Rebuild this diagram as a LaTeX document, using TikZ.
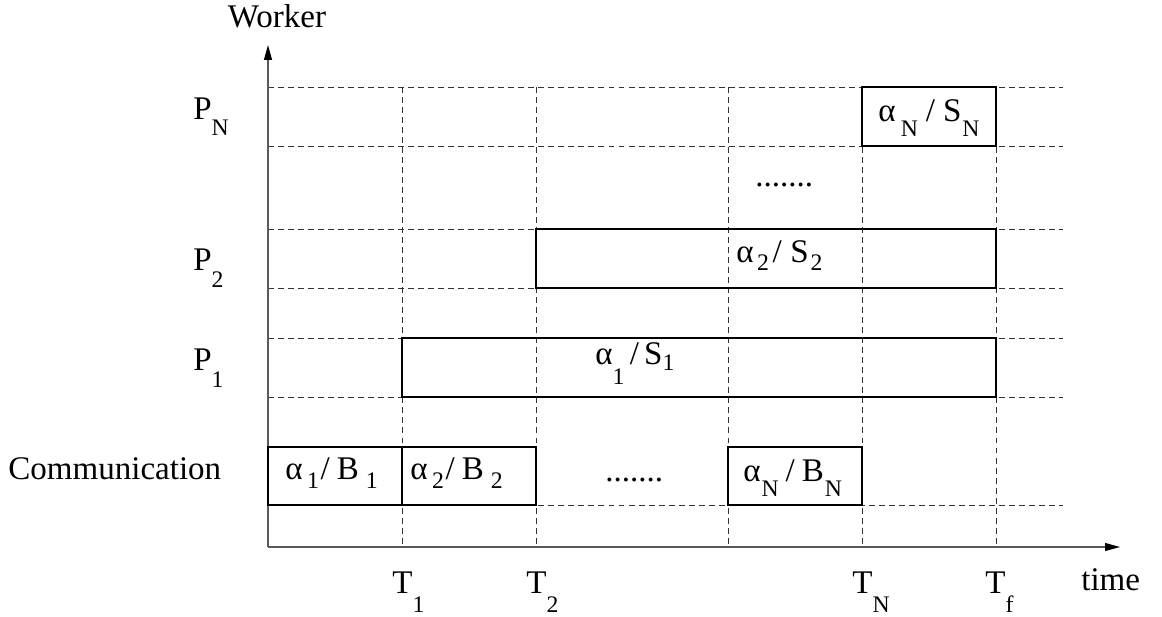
\documentclass[tikz,border=0pt]{standalone}
\usepackage{fontspec}
\setmainfont{Liberation Serif}
\usetikzlibrary{arrows.meta,fit}
\newcommand{\sbs}[2]{\raisebox{-#1}{\fontsize{13.5}{14}\selectfont #2}}
\begin{document}
\begin{tikzpicture}[x=0.02cm,y=-0.02cm,
  every node/.style={font=\fontsize{18.8}{22}\selectfont, inner sep=0pt},
  gridline/.style={dash pattern=on 3.4pt off 2.3pt, line width=0.5pt, black!80},
  axisline/.style={line width=0.7pt, black!65, -{Triangle[length=8.5pt,width=4.5pt,fill=black,color=black]}},
  taskbox/.style={draw, line width=0.6pt, inner sep=0pt, fit={#1}},
  lbl/.style={anchor=base west}]
\useasboundingbox (0,0) rectangle (1162,617);
% grid
\foreach \y in {87,146,229,288,338,397,505} \draw[gridline] (268,\y) -- (1063,\y);
\foreach \x in {402,536,728,862,996} \draw[gridline] (\x,87) -- (\x,547);
% axes
\coordinate (O) at (268,547);
\coordinate (ytip) at (268,45);
\coordinate (xtip) at (1120,547);
\draw[axisline] (O) -- (ytip);
\draw[axisline] (O) -- (xtip);
% boxes
\node[taskbox={(268,447)(402,505)}] (c1) {};
\node[taskbox={(402,447)(536,505)}] (c2) {};
\node[taskbox={(728,447)(862,505)}] (cN) {};
\node[taskbox={(402,338)(996,397)}] (p1) {};
\node[taskbox={(536,229)(996,288)}] (p2) {};
\node[taskbox={(862,87)(996,146)}] (pN) {};
% labels
\node[anchor=base] (worker) at (277,28) {Worker};
\node[lbl] (lPN) at (193,120) {P\sbs{9pt}{N}};
\node[lbl] (lP2) at (193,271) {P\sbs{9.5pt}{2}};
\node[lbl] (lP1) at (193,371) {P\sbs{9.5pt}{1}};
\node[lbl] (lcomm) at (8,480) {Communication};
\node[lbl] (t1) at (285,480) {α\kern2.5pt\sbs{5pt}{1}\kern1pt/\kern4pt B\kern4pt\sbs{5pt}{1}};
\node[lbl] (t2) at (410,480) {α\kern2.5pt\sbs{5pt}{2}\kern1pt/\kern4pt B\kern4pt\sbs{5pt}{2}};
\node[lbl] (dots1) at (605,482) {.......};
\node[lbl] (tN) at (743,482) {α\kern0.5pt\sbs{8pt}{N}\kern4pt/\kern4pt B\kern0.5pt\sbs{8pt}{N}};
\node[lbl] (s1) at (595,365) {α\sbs{11pt}{1}\kern3pt/\kern3pt S\sbs{3pt}{1}};
\node[lbl] (s2) at (736,263) {α\kern2pt\sbs{4pt}{2}\kern2pt/\kern5pt S\kern1pt\sbs{4pt}{2}};
\node[lbl] (dots2) at (755,187) {.......};
\node[lbl] (sN) at (878,122) {α\kern3pt\sbs{8.5pt}{N}\kern4.5pt/\kern4.5pt S\kern0.5pt\sbs{8.5pt}{N}};
\node[lbl] (T1) at (392,593) {T\sbs{11pt}{1}};
\node[lbl] (T2) at (526,593) {T\sbs{11pt}{2}};
\node[lbl] (TN) at (852,593) {T\sbs{11pt}{N}};
\node[lbl] (Tf) at (985,593) {T\sbs{11pt}{f}};
\node[lbl] (time) at (1081,590) {time};
\end{tikzpicture}
\end{document}
